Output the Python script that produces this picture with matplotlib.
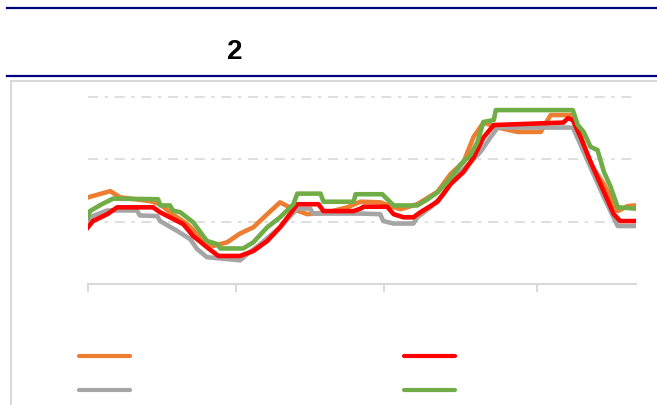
import matplotlib
matplotlib.use("Agg")
import matplotlib.pyplot as plt
from matplotlib.lines import Line2D
from matplotlib.patches import Rectangle

# series (x in days, y in chart units)
orange_x = [0, 4.5, 6.5, 12.6, 14.6, 16.6, 20.1, 22.7, 25.4, 28.2, 30.8, 33.5, 36.3, 38.9,
            41.6, 44.4, 48.5, 52.5, 55.2, 59.2, 61.3, 63.3, 66.7, 70.8, 73.4, 76.1, 78.1,
            80.1, 83.0, 87.0, 91.7, 93.7, 98.2, 99.2, 101.8, 104.5, 107.3, 109.3, 110.9]
orange_y = [1.39, 1.49, 1.39, 1.33, 1.28, 1.15, 0.96, 0.75, 0.61, 0.67, 0.81, 0.91, 1.12, 1.31,
            1.20, 1.12, 1.15, 1.23, 1.32, 1.31, 1.25, 1.20, 1.28, 1.48, 1.76, 1.96, 2.36,
            2.59, 2.51, 2.44, 2.44, 2.71, 2.71, 2.51, 1.92, 1.60, 1.17, 1.25, 1.26]

red_x = [0, 1.0, 3.9, 5.9, 13.2, 14.6, 16.6, 19.3, 21.3, 24.1, 26.4, 30.8, 33.5, 36.3, 38.9,
         42.4, 46.7, 47.7, 53.8, 55.2, 55.8, 60.6, 61.9, 63.9, 65.9, 67.3, 70.8, 73.4, 76.1,
         78.1, 80.1, 82.2, 96.3, 97.2, 98.2, 99.8, 101.8, 104.5, 106.5, 107.8, 110.9]
red_y = [0.91, 1.01, 1.12, 1.23, 1.23, 1.15, 1.07, 0.96, 0.77, 0.59, 0.45, 0.45, 0.53, 0.69, 0.91,
         1.28, 1.28, 1.17, 1.17, 1.21, 1.24, 1.24, 1.12, 1.07, 1.07, 1.15, 1.32, 1.60, 1.80,
         2.03, 2.35, 2.55, 2.59, 2.66, 2.63, 2.35, 1.96, 1.48, 1.12, 1.01, 1.01]

gray_x = [0, 1.0, 3.9, 9.9, 10.5, 14.0, 14.6, 18.1, 20.7, 22.1, 24.1, 30.8, 32.3, 34.9, 38.9,
          42.4, 45.0, 45.6, 55.2, 59.2, 59.8, 61.9, 65.9, 66.7, 69.4, 72.0, 74.8, 77.5, 79.5,
          81.5, 83.0, 98.2, 99.8, 101.8, 104.5, 107.3, 110.9]
gray_y = [1.03, 1.09, 1.18, 1.18, 1.10, 1.09, 1.01, 0.85, 0.72, 0.56, 0.43, 0.38, 0.48, 0.64, 0.91,
          1.21, 1.21, 1.13, 1.13, 1.12, 1.01, 0.97, 0.97, 1.07, 1.23, 1.44, 1.76, 1.95, 2.12,
          2.35, 2.51, 2.51, 2.23, 1.87, 1.39, 0.93, 0.93]

green_x = [0, 0.4, 2.8, 5.1, 14.2, 14.6, 16.6, 17.2, 18.7, 21.3, 24.1, 26.2, 26.8, 31.4, 33.5,
           36.3, 38.9, 41.6, 42.4, 47.1, 47.7, 53.8, 54.2, 59.6, 61.9, 66.7, 68.8, 70.8, 72.8,
           75.5, 77.5, 78.9, 80.1, 82.2, 82.6, 98.2, 99.2, 100.4, 101.8, 103.2, 104.5, 105.9,
           107.3, 110.9]
green_y = [1.07, 1.17, 1.28, 1.37, 1.36, 1.26, 1.26, 1.18, 1.15, 0.99, 0.69, 0.64, 0.57, 0.57, 0.67,
           0.91, 1.07, 1.28, 1.45, 1.45, 1.32, 1.32, 1.44, 1.44, 1.26, 1.26, 1.36, 1.47, 1.64,
           1.92, 2.07, 2.28, 2.60, 2.63, 2.79, 2.79, 2.55, 2.44, 2.20, 2.15, 1.80, 1.55,
           1.23, 1.21]

tick_days = [0, 30, 60, 91]
grid_levels = [1, 2, 3]
title_text = "2"

ORANGE = "#ED7D31"
RED = "#FF0000"
GRAY = "#A5A5A5"
GREEN = "#70AD47"
NAVY = "#000080"
LIGHT = "#D9D9D9"

W, H = 657, 405
fig = plt.figure(figsize=(W / 100, H / 100), dpi=100)

# header rules and title
fig.add_artist(Line2D([7 / W, 1], [1 - 8 / H, 1 - 8 / H], color=NAVY, lw=1.6))
fig.add_artist(Line2D([7 / W, 1], [1 - 75.5 / H, 1 - 75.5 / H], color=NAVY, lw=1.6))
fig.text(235 / W, 1 - 52 / H, title_text, fontsize=20, family="Liberation Sans",
         fontweight="bold", ha="center", va="center")

# chart frame
fig.add_artist(Rectangle((11 / W, -0.01), 1, 1 - 81 / H + 0.01, transform=fig.transFigure,
                         fill=False, edgecolor=LIGHT, lw=1.5))

# plot area: x 88..636 px, y 0 at 284 px, 3 at 97 px
left, right = 88 / W, 636 / W
bottom, top = 1 - 284 / H, 1 - 97 / H
ax = fig.add_axes([left, bottom, right - left, top - bottom])
ax.set_xlim(0, 111)
ax.set_ylim(0, 3)

for lvl in grid_levels:
    ax.axhline(lvl, color=LIGHT, lw=1.2, linestyle=(0, (6, 4, 2, 4)), zorder=0, clip_on=False)

lw = 3.3
ax.plot(orange_x, orange_y, color=ORANGE, lw=lw, solid_joinstyle="round")
ax.plot(gray_x, gray_y, color=GRAY, lw=lw, solid_joinstyle="round")
ax.plot(red_x, red_y, color=RED, lw=lw, solid_joinstyle="round")
ax.plot(green_x, green_y, color=GREEN, lw=lw, solid_joinstyle="round")

for s in ["top", "right", "left"]:
    ax.spines[s].set_visible(False)
ax.spines["bottom"].set_color(LIGHT)
ax.spines["bottom"].set_linewidth(1.5)
ax.set_xticks(tick_days)
ax.set_xticklabels([])
ax.tick_params(axis="x", direction="out", length=6, width=1.5, color=LIGHT)
ax.set_yticks([])

# legend without text, like the reference
handles = [Line2D([], [], color=c, lw=3, solid_capstyle="round")
           for c in [ORANGE, GRAY, RED, GREEN]]
fig.legend(handles, [" "] * 4, ncol=2, frameon=False, fontsize=10,
           handlelength=3.7, handletextpad=0.8, columnspacing=18.6, labelspacing=1.4,
           loc="center left", bbox_to_anchor=(66 / W, 1 - 374 / H))

fig.savefig("out.png", dpi=100)
